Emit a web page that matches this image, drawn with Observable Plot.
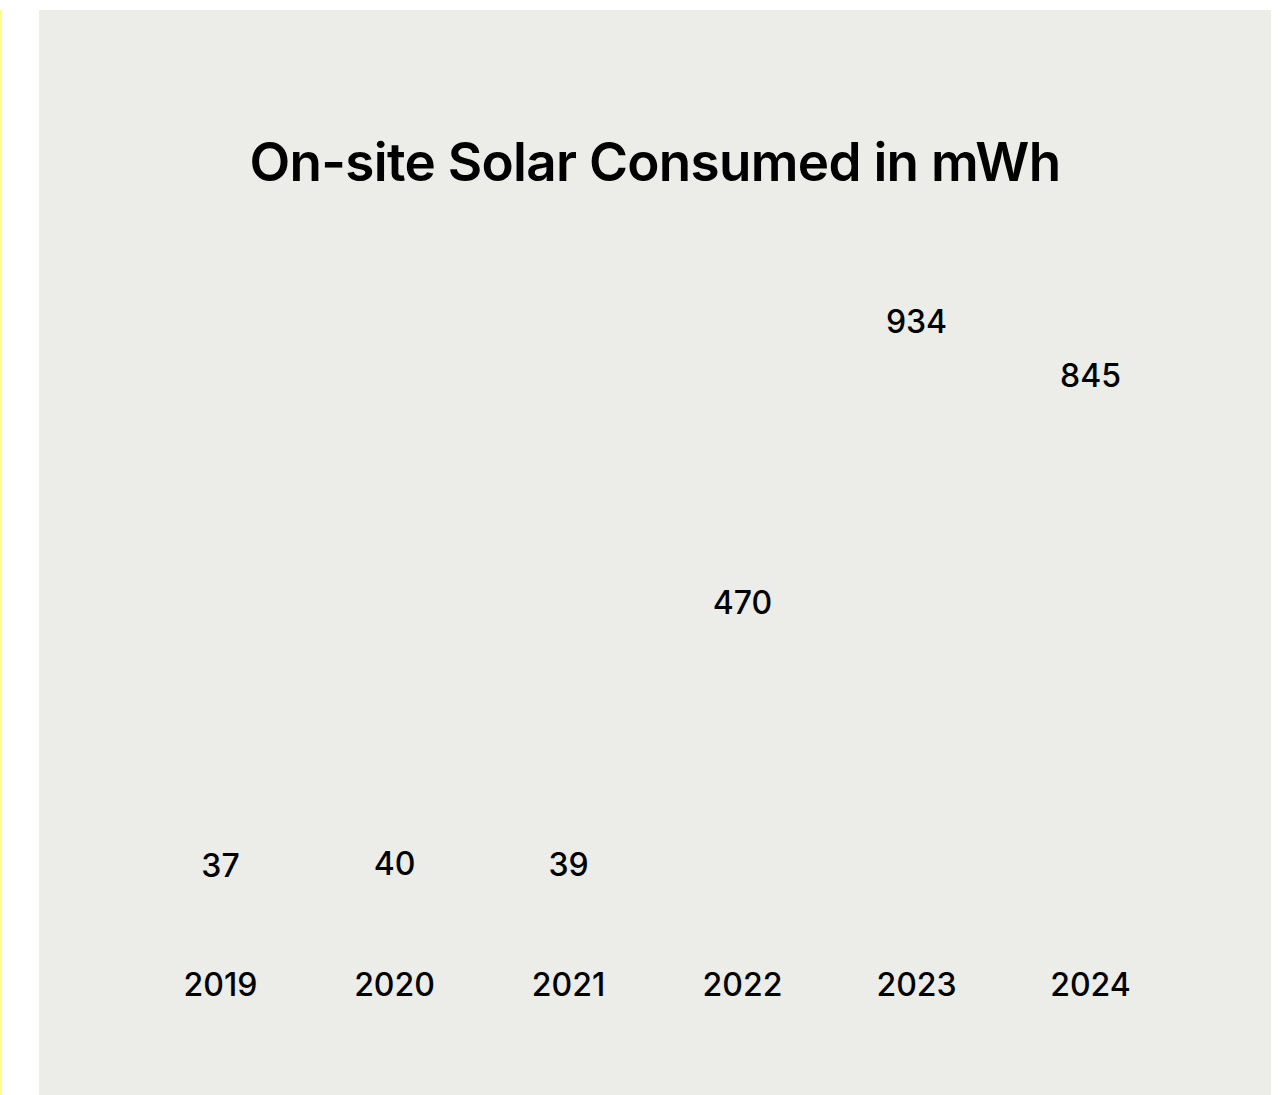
<!DOCTYPE html>
<html>
<head>
<meta charset="utf-8">
<script src="https://cdn.jsdelivr.net/npm/d3@7"></script>
<script src="https://cdn.jsdelivr.net/npm/@observablehq/plot@0.6"></script>
<style>
  html, body { margin: 0; padding: 0; background: #ffffff; }
  body { width: 1281px; height: 1095px; position: relative; overflow: hidden; font-family: Inter, "Noto Sans", sans-serif; }
  #edge { position: absolute; left: 0; top: 10px; width: 2px; height: 1085px; background: #ffff88; }
  #panel { position: absolute; left: 39px; top: 10px; width: 1232px; height: 1085px; background: #ecece8; }
  #title { position: absolute; left: 0; width: 1232px; top: 118px; text-align: center; font-size: 53px; font-weight: 600; color: #000; letter-spacing: -0.7px; line-height: 68px; }
  #chart { position: absolute; left: 0; top: 220px; width: 1232px; }
  #chart svg { max-width: none !important; }
</style>
</head>
<body>
<div id="edge"></div>
<div id="panel">
  <div id="title">On-site Solar Consumed in mWh</div>
  <div id="chart"></div>
</div>
<script>
const years = ["2019", "2020", "2021", "2022", "2023", "2024"];
const values = [37, 40, 39, 470, 934, 845];

const data = years.map((year, i) => ({year, value: values[i]}));

const chart = Plot.plot({
  width: 1232,
  height: 865,
  marginTop: 92,
  marginBottom: 206,
  marginLeft: 94,
  marginRight: 94,
  style: {background: "transparent", color: "#000", fontFamily: "Inter, 'Noto Sans', sans-serif"},
  x: {type: "band", domain: years, range: [94, 1138], padding: 0},
  y: {domain: [0, 934], axis: null},
  marks: [
    Plot.axisX({tickSize: 0, tickPadding: 84, fontSize: 32, fontWeight: 500, label: null}),
    Plot.text(data, {x: "year", y: "value", text: d => String(d.value), fontSize: 32, fontWeight: 500, fill: "#000"})
  ]
});
document.getElementById("chart").appendChild(chart);
</script>
</body>
</html>
